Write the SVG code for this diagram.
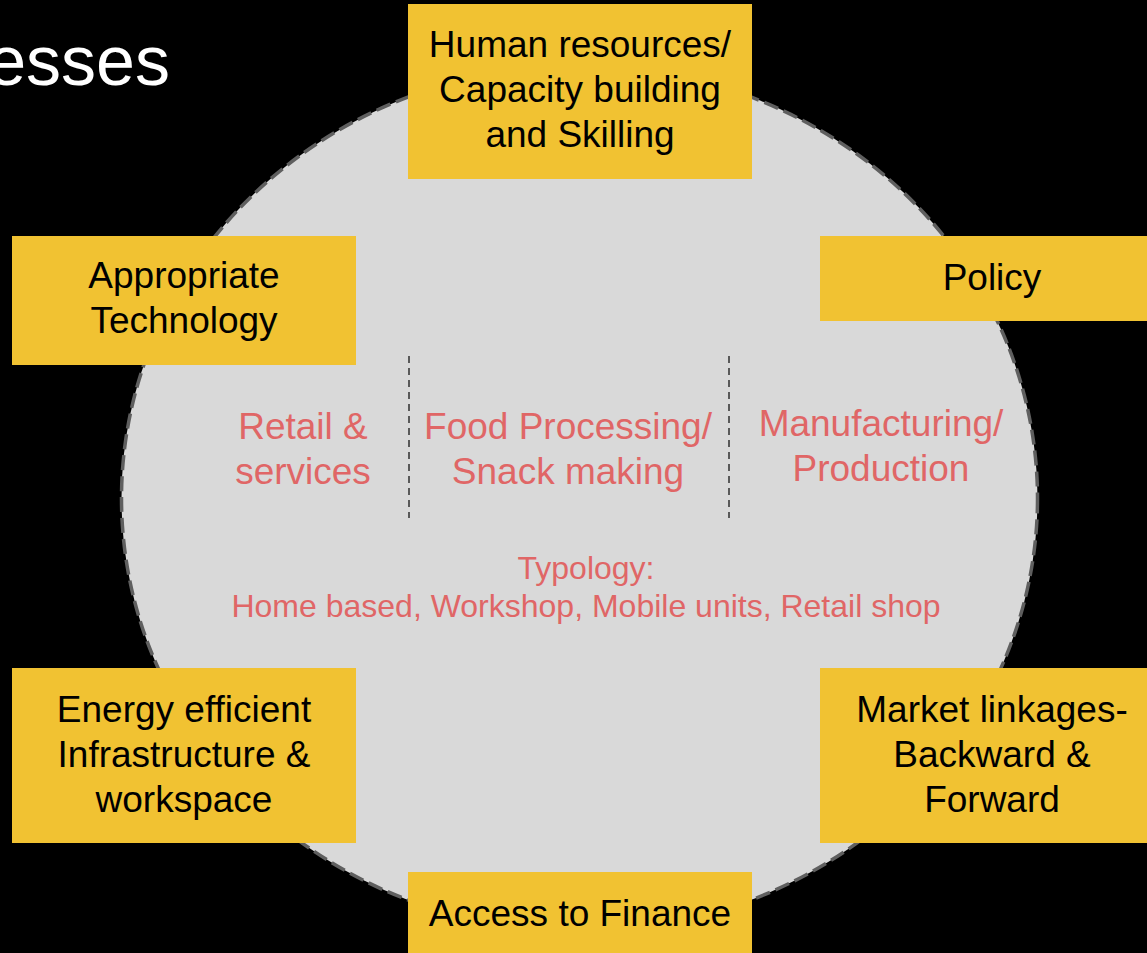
<svg xmlns="http://www.w3.org/2000/svg" width="1147" height="953" viewBox="0 0 1147 953">
<style>
.box{fill:#f1c232}
.bt{font-family:"Liberation Sans",Arial,sans-serif;font-size:37px;fill:#000;text-anchor:middle}
.rt{font-family:"Liberation Sans",Arial,sans-serif;font-size:37px;fill:#e06666;text-anchor:middle}
.ty{font-family:"Liberation Sans",Arial,sans-serif;font-size:32px;fill:#e06666;text-anchor:middle}
.div{stroke:#595959;stroke-width:2;stroke-dasharray:7,5;fill:none}
</style>
<rect x="0" y="0" width="1147" height="953" fill="#000"/>
<text x="170" y="85" font-family="Liberation Sans, Arial, sans-serif" font-size="70" fill="#fff" text-anchor="end">esses</text>
<g id="circle">
<ellipse cx="579.5" cy="498.5" rx="458" ry="433" fill="#d9d9d9" stroke="#5f5f5f" stroke-width="3.5" stroke-dasharray="15,6"/>
</g>
<g id="connectors">
<line class="div" x1="409" y1="356" x2="409" y2="518"/>
<line class="div" x1="729" y1="356" x2="729" y2="518"/>
</g>
<g id="sectors">
<text class="rt" x="303" y="439">Retail &amp;</text>
<text class="rt" x="303" y="484">services</text>
<text class="rt" x="568" y="439">Food Processing/</text>
<text class="rt" x="568" y="484">Snack making</text>
<text class="rt" x="881" y="436">Manufacturing/</text>
<text class="rt" x="881" y="481">Production</text>
</g>
<g id="typology">
<text class="ty" x="586" y="579">Typology:</text>
<text class="ty" x="586" y="617">Home based, Workshop, Mobile units, Retail shop</text>
</g>
<g id="human-resources">
<rect class="box" x="408" y="4" width="344" height="175"/>
<text class="bt" x="580" y="57">Human resources/</text>
<text class="bt" x="580" y="102">Capacity building</text>
<text class="bt" x="580" y="147">and Skilling</text>
</g>
<g id="policy">
<rect class="box" x="820" y="236" width="344" height="85"/>
<text class="bt" x="992" y="290">Policy</text>
</g>
<g id="appropriate-technology">
<rect class="box" x="12" y="236" width="344" height="129"/>
<text class="bt" x="184" y="288">Appropriate</text>
<text class="bt" x="184" y="333">Technology</text>
</g>
<g id="energy-efficient">
<rect class="box" x="12" y="668" width="344" height="175"/>
<text class="bt" x="184" y="722">Energy efficient</text>
<text class="bt" x="184" y="767">Infrastructure &amp;</text>
<text class="bt" x="184" y="812">workspace</text>
</g>
<g id="market-linkages">
<rect class="box" x="820" y="668" width="344" height="175"/>
<text class="bt" x="992" y="722">Market linkages-</text>
<text class="bt" x="992" y="767">Backward &amp;</text>
<text class="bt" x="992" y="812">Forward</text>
</g>
<g id="access-to-finance">
<rect class="box" x="408" y="872" width="344" height="100"/>
<text class="bt" x="580" y="926">Access to Finance</text>
</g>
</svg>
